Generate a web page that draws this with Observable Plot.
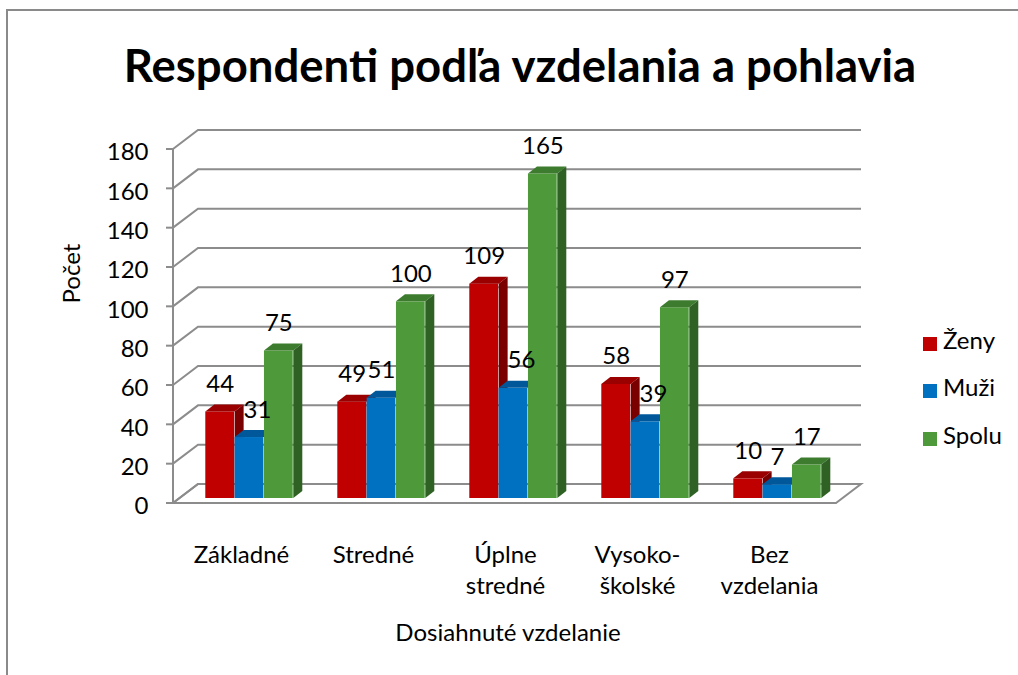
<!DOCTYPE html>
<html>
<head>
<meta charset="utf-8">
<script src="https://cdn.jsdelivr.net/npm/d3@7"></script>
<script src="https://cdn.jsdelivr.net/npm/@observablehq/plot@0.6"></script>
<style>
  html, body { margin: 0; padding: 0; background: #fff; overflow: hidden; }
  #wrap { position: relative; width: 1018px; height: 675px; font-family: Lato, "Open Sans", sans-serif; color: #000; }
  #border { position: absolute; left: 6px; top: 9px; width: 1040px; height: 700px; border-left: 2px solid #8a8a8a; border-top: 2px solid #8a8a8a; box-sizing: border-box; }
  #title { position: absolute; left: 0; top: 42px; width: 1040px; text-align: center; font-weight: 700; font-size: 45.5px; line-height: 45.5px; white-space: nowrap; }
  #chart { position: absolute; left: 0; top: 110px; }
  .lg-sq { position: absolute; width: 14px; height: 14px; }
  .lg-tx { position: absolute; font-size: 24px; line-height: 24px; white-space: nowrap; }
</style>
</head>
<body>
<div id="wrap">
  <div id="border"></div>
  <div id="title">Respondenti podľa vzdelania a pohlavia</div>
  <div id="chart"></div>
  <div id="legend"></div>
</div>
<script>
// ---- data ----
const categories = ["Základné", "Stredné", "Úplne\nstredné", "Vysoko-\nškolské", "Bez\nvzdelania"];
const seriesNames = ["Ženy", "Muži", "Spolu"];
const zeny = [44, 49, 109, 58, 10];
const muzi = [31, 51, 56, 39, 7];
const spolu = [75, 100, 165, 97, 17];
const yTicks = [0, 20, 40, 60, 80, 100, 120, 140, 160, 180];
const yLabel = "Počet";
const xLabel = "Dosiahnuté vzdelanie";

// ---- styles ----
const frontColors = ["#C00000", "#0070C0", "#4E9A3B"];
const topColors = ["#9A0000", "#00589A", "#3D7C2E"];
const sideColors = ["#7A0000", "#004A80", "#2F6024"];
const gridColor = "#8c8c8c";

const seriesValues = [zeny, muzi, spolu];
const rows = seriesNames.flatMap((s, j) =>
  categories.map((c, i) => ({category: c, series: s, value: seriesValues[j][i]})));

// ---- layout ----
const W = 1018, H = 565;
const ML = 173, MR = 182, MT = 39, MB = 172;
const DEPTH = [25, -19];      // wall / floor depth
const BAR_SHIFT = [8, -5];    // bars sit inside the floor
const BAR_DEPTH = [9, -7];    // bar thickness
const GROUP = 88;
const bandW = (W - ML - MR) / categories.length;
const barW = GROUP / seriesNames.length;
const pad = (bandW - GROUP) / 2;
const FS = 24;

function wall(index, {y}, values, dims) {
  const g = d3.create("svg:g").attr("fill", "none").attr("stroke", gridColor).attr("stroke-width", 2);
  const left = dims.marginLeft, right = dims.width - dims.marginRight;
  const [dx, dy] = DEPTH;
  const y0 = y(0);
  g.append("path").attr("fill", "#fff")
    .attr("d", `M${left},${y0}L${right},${y0}L${right + dx},${y0 + dy}L${left + dx},${y0 + dy}Z`);
  for (const t of yTicks) {
    const yy = y(t);
    g.append("path").attr("d", `M${left},${yy}L${left + dx},${yy + dy}L${right + dx},${yy + dy}`);
    g.append("line").attr("x1", left - 7).attr("x2", left).attr("y1", yy).attr("y2", yy);
  }
  g.append("line").attr("x1", left).attr("x2", left).attr("y1", y(0)).attr("y2", y(yTicks[yTicks.length - 1]));
  return g.node();
}

function faces(data, j) {
  return (index, {x, y}) => {
    const g = d3.create("svg:g");
    const [bx, by] = BAR_SHIFT, [ddx, ddy] = BAR_DEPTH;
    for (const d of data) {
      const x0 = x(d.category) + pad + j * barW + bx;
      const x1 = x0 + barW;
      const yt = y(d.value) + by, yb = y(0) + by;
      g.append("path").attr("fill", topColors[j])
        .attr("d", `M${x0},${yt}L${x0 + ddx},${yt + ddy}L${x1 + ddx},${yt + ddy}L${x1},${yt}Z`);
      g.append("path").attr("fill", sideColors[j])
        .attr("d", `M${x1},${yt}L${x1 + ddx},${yt + ddy}L${x1 + ddx},${yb + ddy}L${x1},${yb}Z`);
    }
    return g.node();
  };
}

const marks = [wall];
seriesNames.forEach((s, j) => {
  const data = rows.filter(d => d.series === s);
  marks.push(Plot.barY(data, {
    x: "category", y: "value", fill: frontColors[j],
    insetLeft: pad + j * barW, insetRight: bandW - pad - (j + 1) * barW,
    dx: BAR_SHIFT[0], dy: BAR_SHIFT[1]
  }));
  marks.push(faces(data, j));
});

// value labels
const pxPerUnit = (H - MT - MB) / yTicks[yTicks.length - 1];
seriesNames.forEach((s, j) => {
  const dxLab = BAR_SHIFT[0] + pad + (j + 0.5) * barW - bandW / 2;
  const data = rows.filter(d => d.series === s);
  const textOpts = {x: "category", y: "value", text: d => String(d.value), dy: BAR_SHIFT[1] - 20,
    lineAnchor: "bottom", fontSize: FS, fill: "#000"};
  if (j === 1) {
    // labels that would collide with the taller left neighbour are nudged right
    const blocked = d => (zeny[categories.indexOf(d.category)] - d.value) * pxPerUnit > 20 + BAR_DEPTH[1] + 0.5;
    marks.push(Plot.text(data.filter(d => !blocked(d)), {...textOpts, dx: dxLab}));
    marks.push(Plot.text(data.filter(blocked), {...textOpts, dx: dxLab + 8}));
  } else {
    marks.push(Plot.text(data, {...textOpts, dx: dxLab}));
  }
});

// axes text
marks.push(Plot.text(yTicks, {y: d => d, text: d => String(d), frameAnchor: "left", textAnchor: "end",
  dx: -25, dy: 3, lineAnchor: "middle", fontSize: FS, fill: "#000"}));
marks.push(Plot.text(categories, {x: d => d, text: d => d, frameAnchor: "bottom", lineAnchor: "top",
  dy: 37, lineHeight: 1.3, fontSize: FS, fill: "#000"}));
marks.push(Plot.text([yLabel], {text: d => d, frameAnchor: "left", rotate: -90, dx: -101, dy: -23,
  lineAnchor: "middle", fontSize: FS, fill: "#000"}));
marks.push(Plot.text([xLabel], {text: d => d, frameAnchor: "bottom", dx: 3, dy: 137,
  lineAnchor: "bottom", fontSize: FS, fill: "#000"}));

const chart = Plot.plot({
  width: W, height: H,
  marginLeft: ML, marginRight: MR, marginTop: MT, marginBottom: MB,
  style: {fontFamily: "Lato, 'Open Sans', sans-serif", background: "transparent", overflow: "visible", color: "#000"},
  x: {domain: categories, padding: 0, axis: null},
  y: {domain: [0, yTicks[yTicks.length - 1]], axis: null},
  marks
});
document.getElementById("chart").appendChild(chart);

// legend
const legend = d3.select("#legend");
seriesNames.forEach((s, i) => {
  const top = 336.5 + i * 47.5;
  legend.append("div").attr("class", "lg-sq").style("left", "923px").style("top", top + "px").style("background", frontColors[i]);
  legend.append("div").attr("class", "lg-tx").style("left", "943px").style("top", (top - 9) + "px").text(s);
});
</script>
</body>
</html>
